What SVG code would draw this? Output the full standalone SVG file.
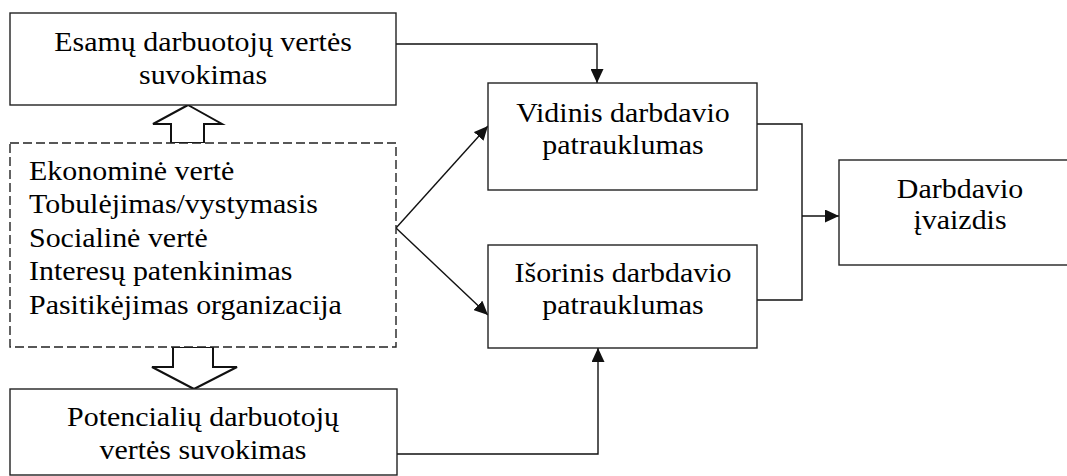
<svg xmlns="http://www.w3.org/2000/svg" width="1067" height="476" viewBox="0 0 1067 476">
  <style>
    .box { fill: #fff; stroke: #222; stroke-width: 1.4; }
    .dash { fill: #fff; stroke: #222; stroke-width: 1.4; stroke-dasharray: 9 4; }
    .fat { fill: #fff; stroke: #111; stroke-width: 2; stroke-linejoin: miter; }
    .ln { fill: none; stroke: #111; stroke-width: 1.4; }
    text { font-family: 'Liberation Serif', 'Times New Roman', serif; font-size: 26.5px; fill: #000; }
    .c { text-anchor: middle; }
  </style>
  <defs>
    <marker id="ah" markerUnits="userSpaceOnUse" markerWidth="14" markerHeight="13" refX="14" refY="6.5" orient="auto">
      <path d="M0,0 L14,6.5 L0,13 z" fill="#111"/>
    </marker>
  </defs>

  <rect width="1067" height="476" fill="#fff"/>

  <g id="connectors">
    <polyline class="ln" points="396,44 597,44 597,83" marker-end="url(#ah)"/>
    <line class="ln" x1="396" y1="228" x2="488" y2="126" marker-end="url(#ah)"/>
    <line class="ln" x1="396" y1="228" x2="488" y2="315" marker-end="url(#ah)"/>
    <polyline class="ln" points="397,454 598,454 598,348" marker-end="url(#ah)"/>
    <polyline class="ln" points="757,124 802,124 802,300 757,300"/>
    <line class="ln" x1="802" y1="216" x2="839" y2="216" marker-end="url(#ah)"/>
    <!-- block arrows between the value list and the perception boxes -->
    <polygon class="fat" points="188,105 222,124 204,124 204,143 171,143 171,124 153,124"/>
    <polygon class="fat" points="173,347 213,347 213,367 237,367 194,389 152,367 173,367"/>
  </g>

  <g id="esami">
    <rect class="box" x="10" y="13" width="386" height="92"/>
    <text class="c" transform="matrix(1.13 0 0 1 203 51)">Esamų darbuotojų vertės</text>
    <text class="c" transform="matrix(1.13 0 0 1 203 83.5)">suvokimas</text>
  </g>

  <g id="vertes">
    <rect class="dash" x="10" y="143" width="386" height="204"/>
    <text transform="matrix(1.13 0 0 1 29 179.5)">Ekonominė vertė</text>
    <text transform="matrix(1.13 0 0 1 29 213)">Tobulėjimas/vystymasis</text>
    <text transform="matrix(1.13 0 0 1 29 246.5)">Socialinė vertė</text>
    <text transform="matrix(1.13 0 0 1 29 280)">Interesų patenkinimas</text>
    <text transform="matrix(1.13 0 0 1 29 313.5)">Pasitikėjimas organizacija</text>
  </g>

  <g id="potencialus">
    <rect class="box" x="10" y="389" width="387" height="86"/>
    <text class="c" transform="matrix(1.13 0 0 1 203 426)">Potencialių darbuotojų</text>
    <text class="c" transform="matrix(1.13 0 0 1 203 458.5)">vertės suvokimas</text>
  </g>

  <g id="vidinis">
    <rect class="box" x="488" y="83" width="269" height="107"/>
    <text class="c" transform="matrix(1.13 0 0 1 623 122)">Vidinis darbdavio</text>
    <text class="c" transform="matrix(1.13 0 0 1 623 154)">patrauklumas</text>
  </g>

  <g id="isorinis">
    <rect class="box" x="488" y="245" width="269" height="103"/>
    <text class="c" transform="matrix(1.13 0 0 1 623 282)">Išorinis darbdavio</text>
    <text class="c" transform="matrix(1.13 0 0 1 623 314)">patrauklumas</text>
  </g>

  <g id="ivaizdis">
    <rect class="box" x="839" y="160" width="242" height="105"/>
    <text class="c" transform="matrix(1.13 0 0 1 960 198)">Darbdavio</text>
    <text class="c" transform="matrix(1.13 0 0 1 960 229)">įvaizdis</text>
  </g>
</svg>
